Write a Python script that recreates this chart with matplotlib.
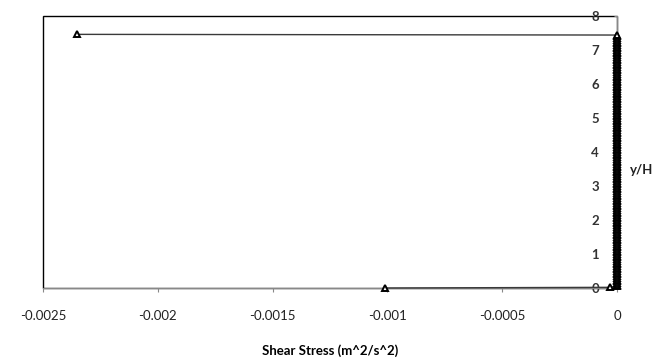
import matplotlib
matplotlib.use("Agg")
import matplotlib.pyplot as plt
from matplotlib.patches import Rectangle

plt.rcParams['font.family'] = ['Lato', 'DejaVu Sans']

# Shear stress profile (x: shear stress m^2/s^2, y: y/H)
y_over_h = [0.00, 0.02, 0.05, 0.10, 0.15, 0.20, 0.25, 0.30, 0.35, 0.40, 0.45,
            0.50, 0.55, 0.60, 0.65, 0.70, 0.75, 0.80, 0.85, 0.90, 0.95,
            1.00, 1.05, 1.10, 1.15, 1.20, 1.25, 1.30, 1.35, 1.40, 1.45,
            1.50, 1.55, 1.60, 1.65, 1.70, 1.75, 1.80, 1.85, 1.90, 1.95,
            2.00, 2.05, 2.10, 2.15, 2.20, 2.25, 2.30, 2.35, 2.40, 2.45,
            2.50, 2.55, 2.60, 2.65, 2.70, 2.75, 2.80, 2.85, 2.90, 2.95,
            3.00, 3.05, 3.10, 3.15, 3.20, 3.25, 3.30, 3.35, 3.40, 3.45,
            3.50, 3.55, 3.60, 3.65, 3.70, 3.75, 3.80, 3.85, 3.90, 3.95,
            4.00, 4.05, 4.10, 4.15, 4.20, 4.25, 4.30, 4.35, 4.40, 4.45,
            4.50, 4.55, 4.60, 4.65, 4.70, 4.75, 4.80, 4.85, 4.90, 4.95,
            5.00, 5.05, 5.10, 5.15, 5.20, 5.25, 5.30, 5.35, 5.40, 5.45,
            5.50, 5.55, 5.60, 5.65, 5.70, 5.75, 5.80, 5.85, 5.90, 5.95,
            6.00, 6.05, 6.10, 6.15, 6.20, 6.25, 6.30, 6.35, 6.40, 6.45,
            6.50, 6.55, 6.60, 6.65, 6.70, 6.75, 6.80, 6.85, 6.90, 6.95,
            7.00, 7.05, 7.10, 7.15, 7.20, 7.25, 7.30, 7.35, 7.40, 7.44,
            7.46]
shear = ([-0.00101, -0.00003]
         + [0.0] * 149
         + [-0.00235])

x_ticks = [-0.0025, -0.002, -0.0015, -0.001, -0.0005, 0]
x_tick_labels = ["-0.0025", "-0.002", "-0.0015", "-0.001", "-0.0005", "0"]
y_ticks = [0, 1, 2, 3, 4, 5, 6, 7, 8]

fig = plt.figure(figsize=(6.72, 3.6), dpi=100)
ax = fig.add_axes([43/672, 1 - 288/360, (617 - 43)/672, (288 - 16)/360])

ax.plot(shear, y_over_h, color='#3a3a3a', lw=1.0, marker='^', markersize=5,
        markerfacecolor='white', markeredgecolor='black', markeredgewidth=1.4,
        clip_on=False, zorder=3)

ax.set_xlim(-0.0025, 0)
ax.set_ylim(0, 8)

# y axis crosses at x=0 (Excel style)
ax.spines['left'].set_position(('data', 0))
for s in ['left', 'bottom']:
    ax.spines[s].set_color('#888888')
    ax.spines[s].set_linewidth(0.8)
ax.spines['top'].set_visible(False)
ax.spines['right'].set_visible(False)

# plot area border
ax.add_patch(Rectangle((0, 0), 1, 1, transform=ax.transAxes, fill=False,
                       edgecolor='black', lw=1.0, clip_on=False, zorder=1))

ax.set_xticks(x_ticks)
ax.set_xticklabels(x_tick_labels)
ax.set_yticks(y_ticks)
ax.tick_params(axis='x', direction='out', length=3, width=0.8, color='#888888',
               labelsize=9.5, pad=13)
ax.tick_params(axis='y', direction='out', length=2, width=0.8, color='#888888',
               labelsize=9.5, pad=11)
for lbl in ax.get_yticklabels():
    lbl.set_fontweight('bold')
    lbl.set_color('#333333')
for lbl in ax.get_xticklabels():
    lbl.set_color('#222222')

ax.set_xlabel("Shear Stress (m^2/s^2)", fontsize=9.5, fontweight='bold', labelpad=16)
fig.text(642/672, 1 - 170/360, "y/H", fontsize=9.5, fontweight='bold',
         ha='center', va='center', color='#222222')

fig.savefig("out.png", dpi=100)
